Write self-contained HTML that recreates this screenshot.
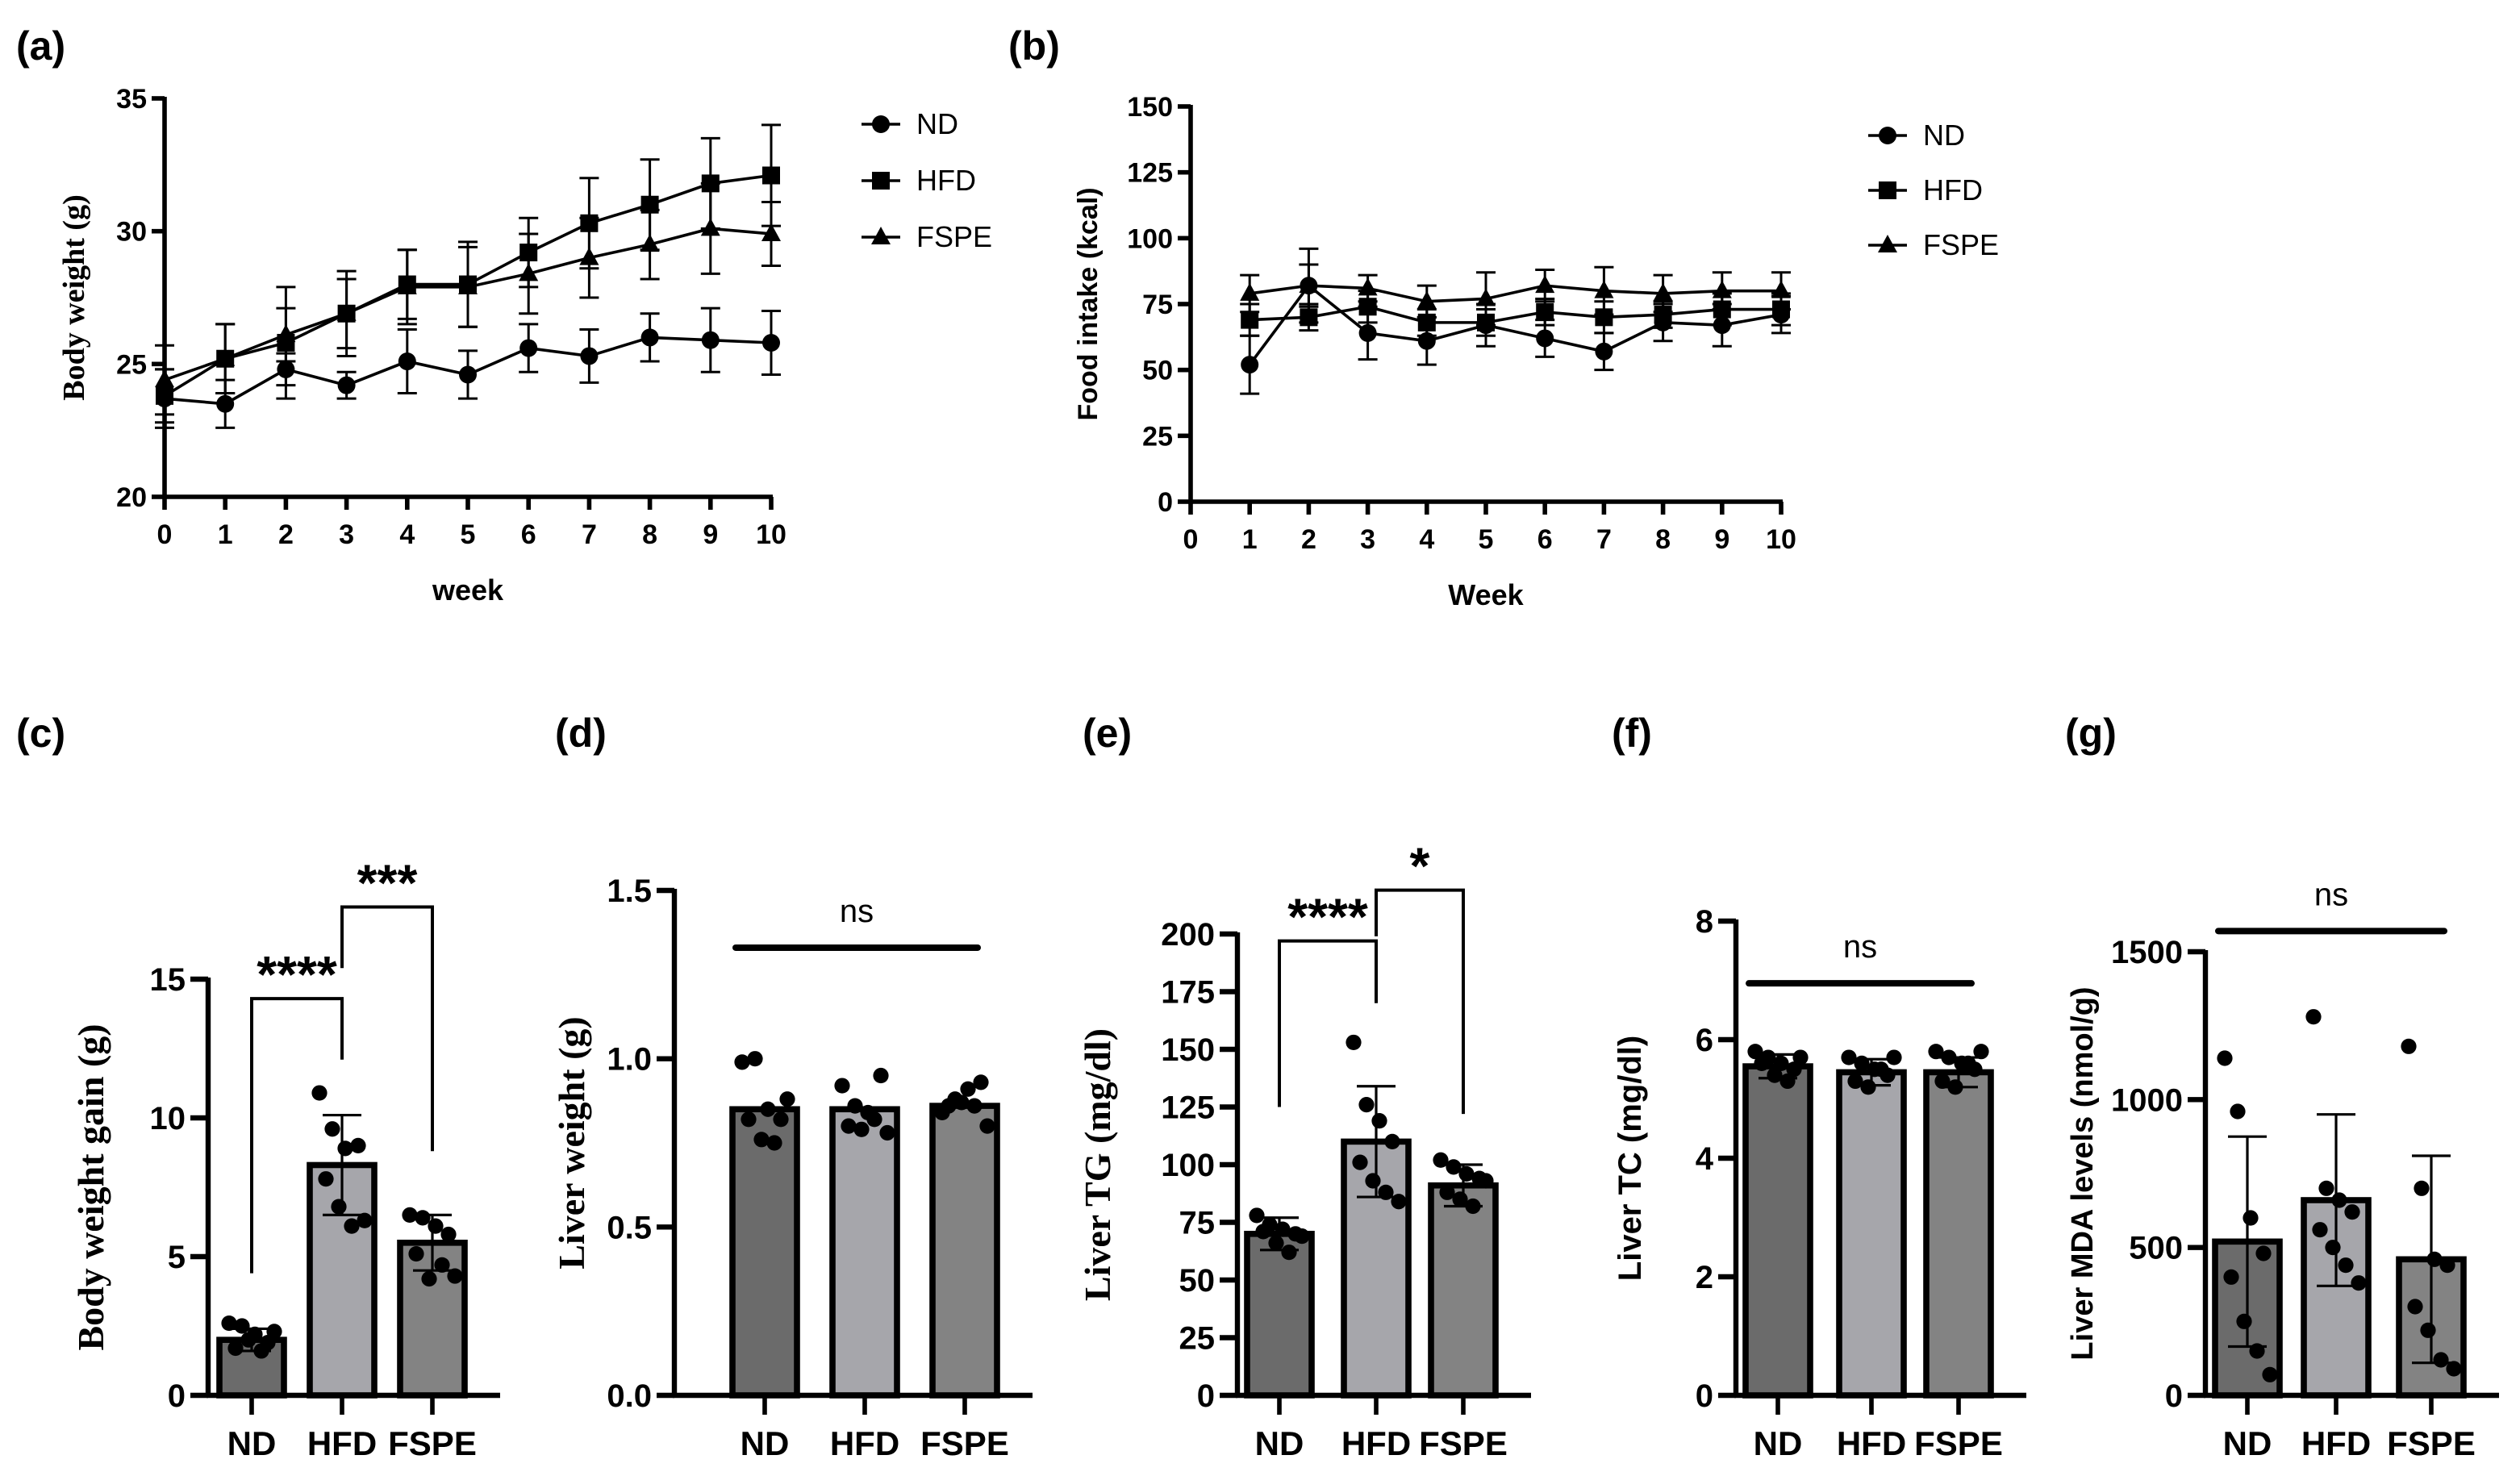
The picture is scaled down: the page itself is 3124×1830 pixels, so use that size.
<!DOCTYPE html>
<html><head><meta charset="utf-8"><style>
html,body{margin:0;padding:0;background:#fff}
svg{display:block}
text{font-family:"Liberation Sans",Arial,sans-serif;font-weight:bold;fill:#000}
.serif{font-family:"Liberation Serif","Times New Roman",serif}
</style></head><body>
<svg id="fig" width="3124" height="1830" viewBox="0 0 1562 915" xmlns="http://www.w3.org/2000/svg"></svg>
<script>
// ---- Panel (a) data: body weight ----
const weeksA = [0,1,2,3,4,5,6,7,8,9,10];
const ndA = [23.7,23.5,24.8,24.2,25.1,24.6,25.6,25.3,26.0,25.9,25.8];
const ndAErr = [1.1,0.9,0.6,0.5,1.2,0.9,0.9,1.0,0.9,1.2,1.2];
const hfdA = [23.8,25.2,25.8,26.9,28.0,28.0,29.2,30.3,31.0,31.8,32.1];
const hfdAErr = [1.0,1.3,2.1,1.6,1.3,1.6,1.3,1.7,1.7,1.7,1.9];
const fspeA = [24.4,25.2,26.1,26.9,27.9,27.9,28.4,29.0,29.5,30.1,29.9];
const fspeAErr = [1.3,1.3,1.0,1.3,1.4,1.5,1.5,1.5,1.3,1.7,1.2];
const yTicksA = [20,25,30,35];
// ---- Panel (b) data: food intake ----
const weeksB = [1,2,3,4,5,6,7,8,9,10];
const xTicksB = [0,1,2,3,4,5,6,7,8,9,10];
const ndB = [52,82,64,61,67,62,57,68,67,71];
const ndBErr = [11,14,10,9,8,7,7,7,8,7];
const hfdB = [69,70,74,68,68,72,70,71,73,73];
const hfdBErr = [6,5,6,5,5,5,6,5,6,6];
const fspeB = [79,82,81,76,77,82,80,79,80,80];
const fspeBErr = [7,8,5,6,10,6,9,7,7,7];
const yTicksB = [0,25,50,75,100,125,150];
// ---- Bar panels ----
const groups = ["ND","HFD","FSPE"];
const gainMeans = [2.0,8.3,5.5];
const gainErr = [0.4,1.8,1.0];
const gainPts = [[2.6,2.5,2.2,1.9,1.7,2.0,1.6,2.3],[10.9,9.6,8.9,9.0,7.8,6.8,6.1,6.3],[6.5,6.4,6.1,5.8,5.1,4.2,4.7,4.3]];
const gainTicks = [0,5,10,15];
const liverMeans = [0.85,0.85,0.86];
const liverPts = [[0.99,1.0,0.85,0.82,0.82,0.76,0.75,0.88],[0.92,0.86,0.84,0.95,0.80,0.79,0.82,0.78],[0.84,0.88,0.91,0.93,0.86,0.87,0.86,0.80]];
const liverTicks = [0,0.5,1.0,1.5];
const tgMeans = [70,110,91];
const tgErr = [7,24,9];
const tgPts = [[78,74,72,70,71,66,62,69],[153,126,119,110,101,93,88,84],[102,99,96,94,88,85,82,93]];
const tgTicks = [0,25,50,75,100,125,150,175,200];
const tcMeans = [5.55,5.45,5.45];
const tcErr = [0.2,0.22,0.25];
const tcPts = [[5.8,5.7,5.6,5.5,5.6,5.4,5.3,5.7],[5.7,5.6,5.5,5.4,5.3,5.2,5.5,5.7],[5.8,5.7,5.6,5.5,5.3,5.2,5.6,5.8]];
const tcTicks = [0,2,4,6,8];
const mdaMeans = [520,660,460];
const mdaErr = [355,290,350];
const mdaPts = [[1140,960,600,480,400,250,150,70],[1280,700,660,620,560,500,440,380],[1180,700,460,440,300,220,120,90]];
const mdaTicks = [0,500,1000,1500];

const NS='http://www.w3.org/2000/svg';
const svg=document.getElementById('fig');
function el(tag,attrs,parent){const e=document.createElementNS(NS,tag);for(const k in attrs)e.setAttribute(k,attrs[k]);(parent||svg).appendChild(e);return e;}
function txt(x,y,s,size,anchor,parent,cls){const t=el('text',{x:x,y:y,'font-size':size,'text-anchor':anchor||'middle'},parent);if(cls)t.setAttribute('class',cls);t.textContent=s;return t;}
function scale(d0,d1,r0,r1){return v=>r0+(v-d0)*(r1-r0)/(d1-d0);}
function marker(type,x,y,g){
  let m;
  if(type==='circle')m=el('circle',{cx:x,cy:y,r:5.5,fill:'#000'},g);
  else if(type==='square')m=el('rect',{x:x-5.5,y:y-5.5,width:11,height:11,fill:'#000'},g);
  else m=el('polygon',{points:`${x},${y-6.5} ${x-6},${y+4.5} ${x+6},${y+4.5}`,fill:'#000'},g);
  return m;
}
function panelLabel(x,y,s){
  const t=txt(x,y,s,25,'start');
  
  
}

function lineChart(o){
  const g=el('g',{});
  
  
  const xs=scale(o.xmin,o.xmax,o.x0,o.x1), ys=scale(o.ymin,o.ymax,o.y0,o.y1);
  el('line',{x1:o.x0,y1:o.y1-1,x2:o.x0,y2:o.y0+1.5,stroke:'#000','stroke-width':2.8},g);
  el('line',{x1:o.x0-1,y1:o.y0,x2:o.x1+1,y2:o.y0,stroke:'#000','stroke-width':2.8},g);
  o.yticks.forEach(v=>{const y=ys(v);el('line',{x1:o.x0-8,y1:y,x2:o.x0,y2:y,stroke:'#000','stroke-width':2.8},g);txt(o.x0-11,y+6,String(v),17,'end',g);});
  o.xticks.forEach(v=>{const x=xs(v);el('line',{x1:x,y1:o.y0,x2:x,y2:o.y0+8,stroke:'#000','stroke-width':2.8},g);txt(x,o.y0+29,String(v),17,'middle',g);});
  o.series.forEach(s=>{
    const sg=el('g',{},g);
    
    
    s.vals.forEach((v,i)=>{const x=xs(s.x[i]);el('line',{x1:x,y1:ys(v-s.err[i]),x2:x,y2:ys(v+s.err[i]),stroke:'#000','stroke-width':1.5},sg);
      [v-s.err[i],v+s.err[i]].forEach(e=>el('line',{x1:x-6,y1:ys(e),x2:x+6,y2:ys(e),stroke:'#000','stroke-width':1.5},sg));});
    el('polyline',{points:s.vals.map((v,i)=>xs(s.x[i])+','+ys(v)).join(' '),fill:'none',stroke:'#000','stroke-width':1.8},sg);
    s.vals.forEach((v,i)=>{const m=marker(s.marker,xs(s.x[i]),ys(v),sg);});
  });
  o.series.forEach((s,i)=>{
    const ly=o.ly+i*o.lstep;
    const lg=el('g',{},g);
    
    
    el('line',{x1:o.lx-12,y1:ly,x2:o.lx+12,y2:ly,stroke:'#000','stroke-width':1.8},lg);
    marker(s.marker,o.lx,ly,lg);
    const t=el('text',{x:o.lx+22,y:ly+6,'font-size':18,'text-anchor':'start'},lg);t.style.fontWeight='normal';t.textContent=s.name;
  });
  const xt=txt((o.x0+o.x1)/2,o.y0+64,o.xlabel,18,'middle',g);
  
  const yt=txt(0,0,o.ylabel,o.ylserif?19:17,'middle',g,o.ylserif?'serif':null);
  yt.setAttribute('transform',`translate(${o.ylx},${(o.y0+o.y1)/2}) rotate(-90)`);
  
}

const barColors=['#6b6b6b','#a6a6ab','#838383'];
function barChart(o){
  const g=el('g',{});
  
  
  const ys=scale(0,o.ymax,o.y0,o.y1);
  const bw=40;
  groups.forEach((grp,i)=>{
    const cx=o.cx[i], top=ys(o.means[i]);
    const b=el('rect',{x:cx-bw/2,y:top,width:bw,height:o.y0-top,fill:barColors[i],stroke:'#000','stroke-width':3.8},g);
    
    
    o.pts[i].forEach((v,j)=>{const dx=((j%4)-1.5)*8+(j<4?-2:2);const p=el('circle',{cx:cx+dx,cy:ys(v),r:4.8,fill:'#000'},g);
      
      });
    if(o.err){const lo=ys(o.means[i]-o.err[i]),hi=ys(o.means[i]+o.err[i]);
      el('line',{x1:cx,y1:lo,x2:cx,y2:hi,stroke:'#000','stroke-width':1.6},g);
      [lo,hi].forEach(y=>el('line',{x1:cx-12,y1:y,x2:cx+12,y2:y,stroke:'#000','stroke-width':1.6},g));}
    el('line',{x1:cx,y1:o.y0,x2:cx,y2:o.y0+12,stroke:'#000','stroke-width':2.8},g);
    txt(cx,o.y0+37,grp,21,'middle',g);
  });
  el('line',{x1:o.x0,y1:o.y1-1,x2:o.x0,y2:o.y0+1.5,stroke:'#000','stroke-width':3.2},g);
  el('line',{x1:o.x0-1,y1:o.y0,x2:o.cx[2]+bw/2+22,y2:o.y0,stroke:'#000','stroke-width':3.2},g);
  o.ticks.forEach(v=>{const y=ys(v);el('line',{x1:o.x0-11,y1:y,x2:o.x0,y2:y,stroke:'#000','stroke-width':3.2},g);txt(o.x0-14,y+7,o.fmt?o.fmt(v):String(v),20,'end',g);});
  const yt=txt(0,0,o.ylabel,o.ylsize,'middle',g,o.ylserif?'serif':null);
  yt.setAttribute('transform',`translate(${o.ylx},${(o.y0+o.y1)/2}) rotate(-90)`);
  
  if(o.ns){const y=ys(o.ns);el('line',{x1:o.cx[0]-18,y1:y,x2:o.cx[2]+8,y2:y,stroke:'#000','stroke-width':4,'stroke-linecap':'round'},g);
    const t=txt((o.cx[0]+o.cx[2])/2-5,y-16,'ns',20,'middle',g);t.style.fontWeight='normal';}
  (o.brackets||[]).forEach(br=>{
    const bg=el('g',{},g);
    
    
    const xa=o.cx[br.a],xb=o.cx[br.b],yt2=ys(br.top);
    el('polyline',{points:`${xa},${ys(br.la)} ${xa},${yt2} ${xb},${yt2} ${xb},${ys(br.lb)}`,fill:'none',stroke:'#000','stroke-width':2},bg);
    txt((xa+xb)/2,yt2-4,br.label,32,'middle',bg);
  });
}

panelLabel(10,37,'(a)');panelLabel(625,37,'(b)');
panelLabel(10,463,'(c)');panelLabel(344,463,'(d)');panelLabel(671,463,'(e)');panelLabel(999,463,'(f)');panelLabel(1280,463,'(g)');

lineChart({name:'body-weight-chart',x0:102,x1:478,y0:308,y1:61,xmin:0,xmax:10,ymin:20,ymax:35,yticks:yTicksA,xticks:weeksA,
  series:[{name:'ND',marker:'circle',x:weeksA,vals:ndA,err:ndAErr},{name:'HFD',marker:'square',x:weeksA,vals:hfdA,err:hfdAErr},{name:'FSPE',marker:'triangle',x:weeksA,vals:fspeA,err:fspeAErr}],
  lx:546,ly:77,lstep:35,xlabel:'week',ylabel:'Body weight (g)',ylserif:true,ylx:52});
lineChart({name:'food-intake-chart',x0:738,x1:1104,y0:311,y1:66,xmin:0,xmax:10,ymin:0,ymax:150,yticks:yTicksB,xticks:xTicksB,
  series:[{name:'ND',marker:'circle',x:weeksB,vals:ndB,err:ndBErr},{name:'HFD',marker:'square',x:weeksB,vals:hfdB,err:hfdBErr},{name:'FSPE',marker:'triangle',x:weeksB,vals:fspeB,err:fspeBErr}],
  lx:1170,ly:84,lstep:34,xlabel:'Week',ylabel:'Food intake (kcal)',ylserif:false,ylx:680});

barChart({name:'weight-gain-chart',x0:129,y0:865,y1:607,ymax:15,ticks:gainTicks,cx:[156,212,268],means:gainMeans,err:gainErr,pts:gainPts,
  ylabel:'Body weight gain (g)',ylserif:true,ylsize:23,ylx:64,
  brackets:[{a:0,b:1,top:14.3,la:4.4,lb:12.1,label:'****'},{a:1,b:2,top:17.6,la:15.4,lb:8.8,label:'***'}]});
barChart({name:'liver-weight-chart',x0:418,y0:865,y1:552,ymax:1.5,ticks:liverTicks,fmt:v=>v.toFixed(1),cx:[474,536,598],means:liverMeans,pts:liverPts,
  ylabel:'Liver weight (g)',ylserif:true,ylsize:23,ylx:362,ns:1.33});
barChart({name:'liver-tg-chart',x0:767,y0:865,y1:579,ymax:200,ticks:tgTicks,cx:[793,853,907],means:tgMeans,err:tgErr,pts:tgPts,
  ylabel:'Liver TG (mg/dl)',ylserif:true,ylsize:23,ylx:688,
  brackets:[{a:0,b:1,top:197,la:125,lb:170,label:'****'},{a:1,b:2,top:219,la:199,lb:122,label:'*'}]});
barChart({name:'liver-tc-chart',x0:1076,y0:865,y1:571,ymax:8,ticks:tcTicks,cx:[1102,1160,1214],means:tcMeans,err:tcErr,pts:tcPts,
  ylabel:'Liver TC (mg/dl)',ylserif:false,ylsize:20,ylx:1017,ns:6.95});
barChart({name:'liver-mda-chart',x0:1367,y0:865,y1:590,ymax:1500,ticks:mdaTicks,cx:[1393,1448,1507],means:mdaMeans,err:mdaErr,pts:mdaPts,
  ylabel:'Liver MDA levels (nmol/g)',ylserif:false,ylsize:19,ylx:1297,ns:1570});
</script>
</body></html>
